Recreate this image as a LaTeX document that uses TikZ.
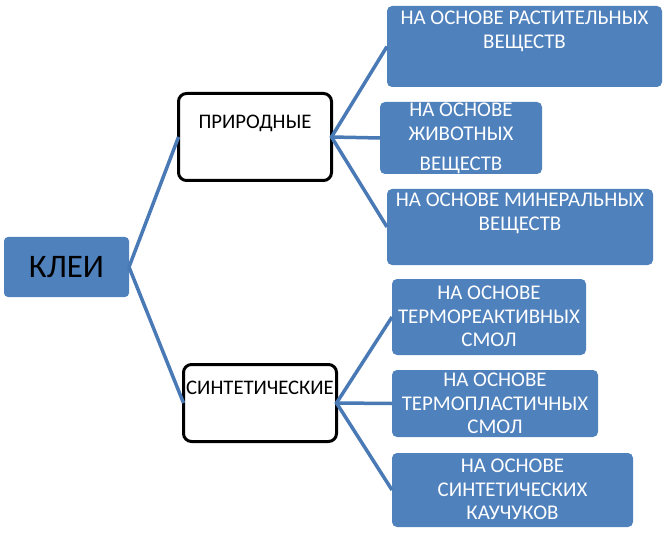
\documentclass[tikz,border=0pt]{standalone}
\usepackage{fontspec}
\setmainfont{Carlito}
\usetikzlibrary{positioning}

\definecolor{boxblue}{HTML}{4F81BD}
\definecolor{lineblue}{HTML}{4A7AB5}

\begin{document}
\begin{tikzpicture}[x=1bp, y=-1bp]
    % Styles
    \tikzstyle{root} = [rectangle, fill=boxblue, rounded corners=4bp, anchor=north west, minimum width=125bp, minimum height=60bp, inner sep=0pt, outer sep=0pt, font=\fontsize{33}{36}\selectfont]
    \tikzstyle{group} = [rectangle, draw=black, line width=3bp, rounded corners=8bp, fill=white, anchor=north west, minimum width=153bp, inner sep=0pt, outer sep=0pt]
    \tikzstyle{leaf} = [rectangle, fill=boxblue, rounded corners=5bp, anchor=north west, inner sep=0pt, outer sep=0pt]
    \tikzstyle{grouptext} = [inner sep=0pt, font=\fontsize{20.8}{24}\selectfont]
    \tikzstyle{leaftext} = [inner sep=0pt, align=center, text=white, font=\fontsize{21}{23.5}\selectfont]
    \tikzstyle{link} = [draw=lineblue, line width=3.5bp]

    \useasboundingbox (0,0) rectangle (667,533);

    % Nodes
    \node[root] (klei) at (4,237) {КЛЕИ};

    \node[group, minimum height=87bp] (prir) at (178.5,93.5) {};
    \node[grouptext, below=21bp of prir.north] (prirtext) {ПРИРОДНЫЕ};
    \node[group, minimum height=77bp] (sint) at (183.5,364.5) {};
    \node[grouptext, below=16bp of sint.north] (sinttext) {СИНТЕТИЧЕСКИЕ};

    \node[leaf, minimum width=275bp, minimum height=81bp] (rast) at (387,6) {};
    \node[leaftext, below=5bp of rast.north] (rasttext) {НА ОСНОВЕ РАСТИТЕЛЬНЫХ\\ВЕЩЕСТВ};
    \node[leaf, minimum width=162bp, minimum height=72bp] (zhiv) at (380,102) {};
    \node[leaftext, below=1bp of zhiv.north] (zhivtext) {НА ОСНОВЕ\\ЖИВОТНЫХ\\[7bp]ВЕЩЕСТВ};
    \node[leaf, minimum width=266bp, minimum height=76bp] (miner) at (387,189) {};
    \node[leaftext, below=4bp of miner.north] (minertext) {НА ОСНОВЕ МИНЕРАЛЬНЫХ\\ВЕЩЕСТВ};

    \node[leaf, minimum width=194bp, minimum height=76bp] (reakt) at (392,279) {};
    \node[leaftext, below=7bp of reakt.north] (reakttext) {НА ОСНОВЕ\\ТЕРМОРЕАКТИВНЫХ\\СМОЛ};
    \node[leaf, minimum width=206bp, minimum height=67bp] (plast) at (392,370) {};
    \node[leaftext, below=3bp of plast.north] (plasttext) {НА ОСНОВЕ\\ТЕРМОПЛАСТИЧНЫХ\\СМОЛ};
    \node[leaf, minimum width=241bp, minimum height=74bp] (kauch) at (392,453) {};
    \node[leaftext, below=6bp of kauch.north] (kauchtext) {НА ОСНОВЕ\\СИНТЕТИЧЕСКИХ\\КАУЧУКОВ};

    % Paths
    \draw [link] (prir.west) -- (klei.east) -- (sint.west);
    \draw [link] (rast.west) -- (prir.east) -- (miner.west);
    \draw [link] (prir.east) -- (zhiv.west);
    \draw [link] (reakt.west) -- (sint.east) -- (kauch.west);
    \draw [link] (sint.east) -- (plast.west);
\end{tikzpicture}
\end{document}
